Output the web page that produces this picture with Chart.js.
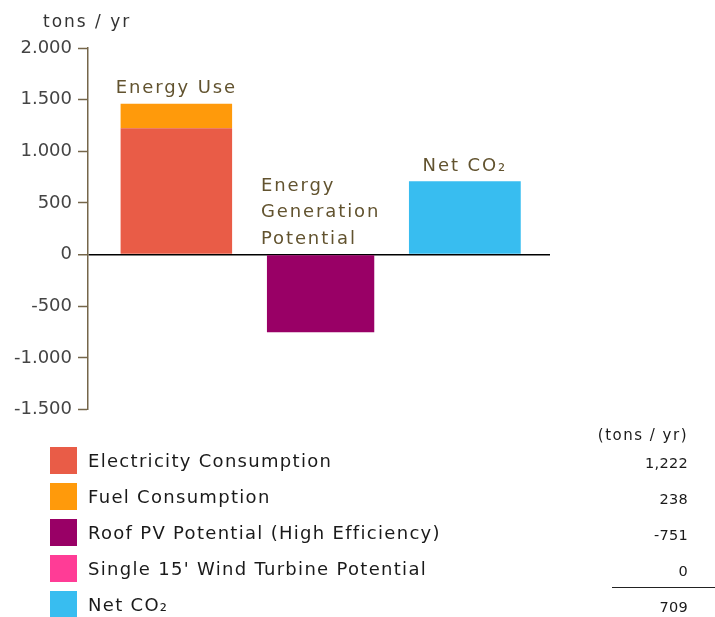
<!DOCTYPE html>
<html>
<head>
<meta charset="utf-8">
<script src="https://cdn.jsdelivr.net/npm/chart.js@4/dist/chart.umd.min.js"></script>
<style>
  html, body { margin: 0; padding: 0; background: #fff; }
  #wrap { position: relative; width: 715px; height: 617px; overflow: hidden; font-family: "DejaVu Sans", sans-serif; }
  canvas { position: absolute; left: 0; top: 0; }
  .unit { position: absolute; left: 43px; top: 13px; font-size: 17px; line-height: 17px; letter-spacing: 2px; color: #333; white-space: nowrap; }
  .leg { position: absolute; left: 50px; height: 27px; display: flex; align-items: center; white-space: nowrap; }
  .leg .box { width: 27px; height: 27px; margin-right: 11px; }
  .leg .txt { font-size: 18px; line-height: 27px; letter-spacing: 1.3px; color: #1a1a1a; }
  .val { position: absolute; right: 27px; height: 27px; font-size: 14.5px; line-height: 27px; letter-spacing: 0.3px; color: #1a1a1a; text-align: right; white-space: nowrap; }
  .valhead { position: absolute; right: 27px; top: 425px; font-size: 15px; line-height: 20px; letter-spacing: 1.5px; color: #1a1a1a; white-space: nowrap; }
  .sumline { position: absolute; left: 612px; width: 103px; top: 587px; height: 0; border-top: 1.5px solid #222; }
</style>
</head>
<body>
<div id="wrap">
  <canvas id="c" width="715" height="617"></canvas>
  <div class="unit" id="unit"></div>
  <div class="valhead" id="valhead"></div>
  <div id="legend"></div>
  <div class="sumline"></div>
</div>
<script>
// ---- data ----
const unitLabel = 'tons / yr';
const tableUnit = '(tons / yr)';
const categories = [['Energy Use'], ['Energy', 'Generation', 'Potential'], ['Net CO\u2082']];
const seriesNames = ['Electricity Consumption', 'Fuel Consumption', 'Roof PV Potential (High Efficiency)', "Single 15' Wind Turbine Potential", 'Net CO\u2082'];
const seriesValues = [1222, 238, -751, 0, 709];
const seriesCategory = [0, 0, 1, 1, 2];
const seriesColors = ['#e95c47', '#ff9a0b', '#990066', '#ff3c96', '#38bdf0'];
const yTicks = [-1500, -1000, -500, 0, 500, 1000, 1500, 2000];

// ---- styles ----
const axisColor = '#75664a';
const labelColor = '#62532f';
const barPct = [0.773, 0.773, 0.744, 0.744, 0.775];

function fmtDot(v) {
  const s = Math.abs(v).toString().replace(/\B(?=(\d{3})+(?!\d))/g, '.');
  return (v < 0 ? '-' : '') + s;
}
function fmtComma(v) {
  const s = Math.abs(v).toString().replace(/\B(?=(\d{3})+(?!\d))/g, ',');
  return (v < 0 ? '-' : '') + s;
}

const datasets = seriesNames.map((name, i) => ({
  label: name,
  data: [{ x: seriesCategory[i], y: seriesValues[i] }],
  backgroundColor: seriesColors[i],
  borderWidth: 0,
  barPercentage: barPct[i],
  categoryPercentage: 1
}));

const catLabelPlugin = {
  id: 'catLabels',
  afterDatasetsDraw(chart) {
    const { ctx } = chart;
    const x = chart.scales.x, y = chart.scales.y;
    ctx.save();
    ctx.font = '18px "DejaVu Sans"';
    try { ctx.letterSpacing = '1.9px'; } catch (e) {}
    ctx.fillStyle = labelColor;
    ctx.textBaseline = 'alphabetic';
    ctx.textAlign = 'left';
    const lh = 26.7;
    categories.forEach((lines, ci) => {
      let top = 0;
      seriesValues.forEach((v, i) => { if (seriesCategory[i] === ci && v > 0) top += v; });
      const baseY = y.getPixelForValue(top) - 10.5;
      const cx = x.getPixelForValue(ci);
      const w = Math.max(...lines.map(l => ctx.measureText(l).width));
      lines.forEach((l, li) => {
        ctx.fillText(l, cx - w / 2, baseY - (lines.length - 1 - li) * lh);
      });
    });
    ctx.restore();
  }
};

new Chart(document.getElementById('c'), {
  type: 'bar',
  data: { datasets },
  options: {
    responsive: false,
    animation: false,
    layout: { padding: { top: 48, left: 0, right: 165, bottom: 207.5 } },
    plugins: { legend: { display: false }, tooltip: { enabled: false }, title: { display: false } },
    scales: {
      x: {
        type: 'linear',
        stacked: true,
        display: false,
        offset: false,
        min: -0.6125,
        max: 2.5903,
        ticks: { stepSize: 1, includeBounds: false },
        grid: { display: false, offset: false }
      },
      y: {
        stacked: true,
        min: yTicks[0],
        max: yTicks[yTicks.length - 1],
        afterFit(scale) { scale.width = 88; },
        afterBuildTicks(scale) { scale.ticks = yTicks.map(v => ({ value: v })); },
        ticks: {
          padding: 6,
          color: '#444',
          font: { family: '"DejaVu Sans"', size: 18 },
          callback: v => fmtDot(v)
        },
        grid: {
          drawOnChartArea: true,
          drawTicks: true,
          tickLength: 10,
          tickColor: axisColor,
          tickWidth: 1.5,
          color: c => (c.tick && c.tick.value === 0 ? '#000' : 'rgba(0,0,0,0)'),
          lineWidth: c => (c.tick && c.tick.value === 0 ? 1.5 : 1)
        },
        border: { display: true, color: axisColor, width: 1.5 }
      }
    }
  },
  plugins: [catLabelPlugin]
});

// ---- HTML legend & value table built from the arrays ----
document.getElementById('unit').textContent = unitLabel;
document.getElementById('valhead').textContent = tableUnit;
const legend = document.getElementById('legend');
seriesNames.forEach((name, i) => {
  const row = document.createElement('div');
  row.className = 'leg';
  row.style.top = (447 + 36 * i) + 'px';
  const box = document.createElement('div');
  box.className = 'box';
  box.style.background = seriesColors[i];
  const txt = document.createElement('span');
  txt.className = 'txt';
  txt.textContent = name;
  row.appendChild(box); row.appendChild(txt);
  legend.appendChild(row);
  const val = document.createElement('div');
  val.className = 'val';
  val.style.top = (450 + 36 * i) + 'px';
  val.textContent = fmtComma(seriesValues[i]);
  legend.appendChild(val);
});
</script>
</body>
</html>
